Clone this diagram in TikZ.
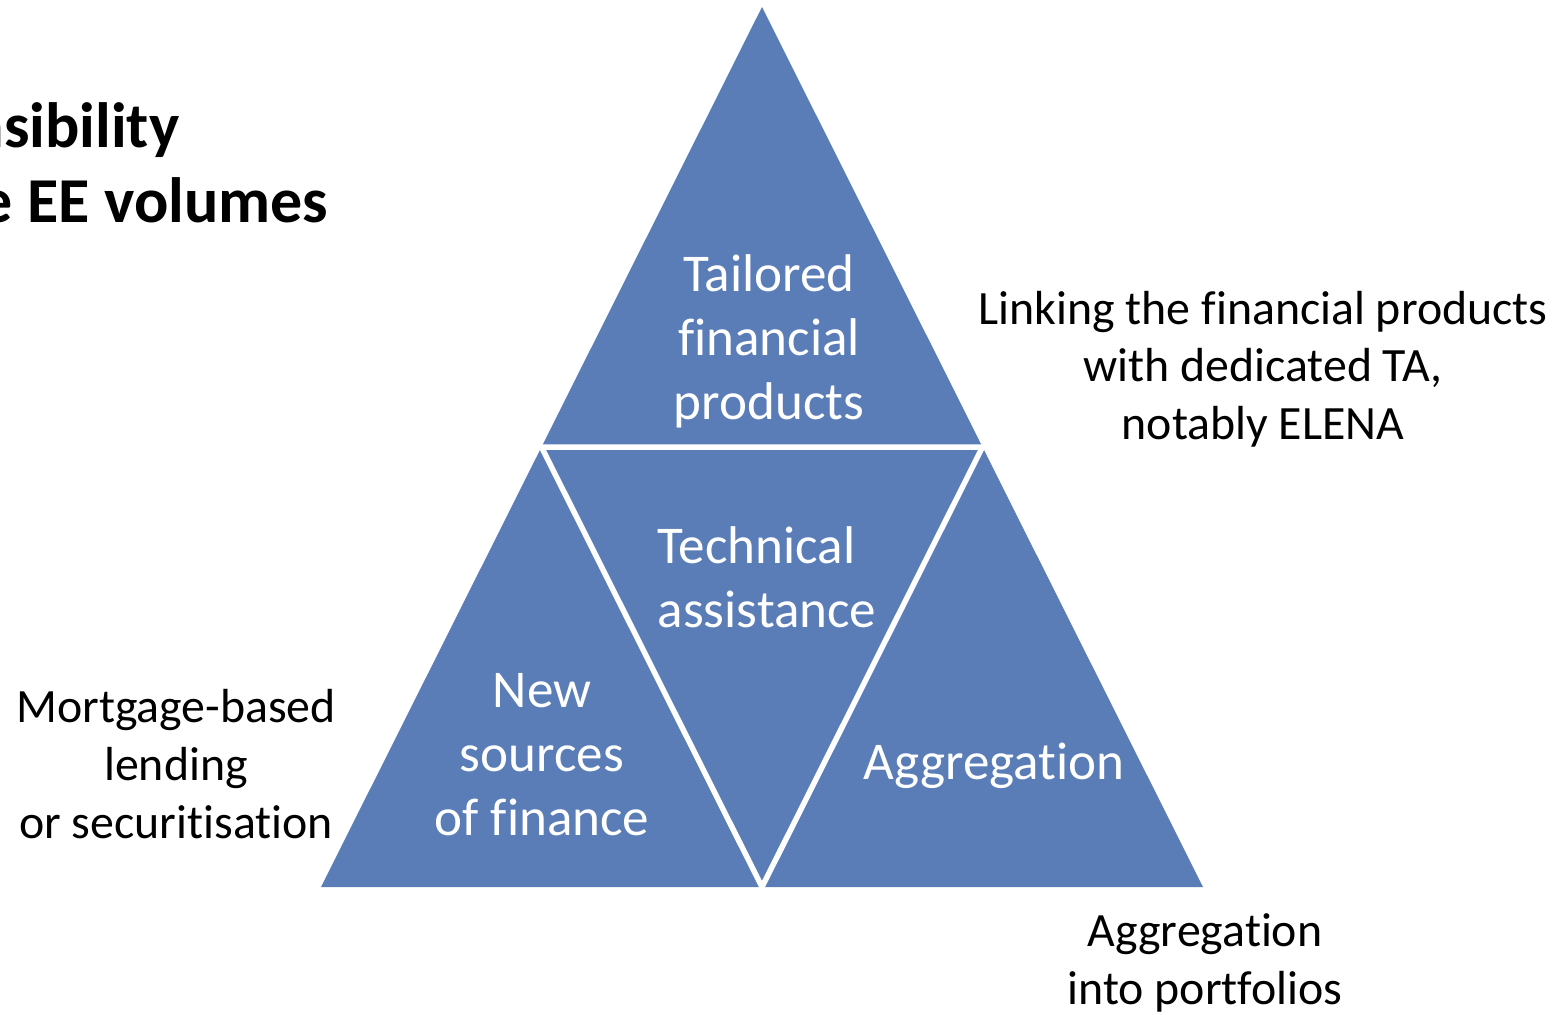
\documentclass[tikz,border=0pt]{standalone}
\usepackage{fontspec}
\setmainfont[Ligatures={NoCommon,NoRare,NoContextual}]{Carlito}
\usetikzlibrary{calc}
\definecolor{pyrblue}{RGB}{90,125,184}
\tikzset{
  inlabel/.style={text=white, align=center, inner sep=0pt,
    font=\fontsize{15.1}{18.2}\selectfont},
  outlabel/.style={text=black, align=center, inner sep=0pt,
    font=\fontsize{13.6}{16.4}\selectfont},
  titlelabel/.style={anchor=base east, inner sep=0pt,
    font=\bfseries\fontsize{18.2}{21.9}\selectfont}
}
\begin{document}
\begin{tikzpicture}[x=0.01cm,y=-0.01cm,line join=miter]
\useasboundingbox (0,0) rectangle (1557,1014);
% corners of the pyramid
\coordinate (top) at (762,7);
\coordinate (left) at (321,887);
\coordinate (right) at (1203,887);
\coordinate (midL) at ($(top)!0.5!(left)$);
\coordinate (midR) at ($(top)!0.5!(right)$);
\coordinate (midB) at ($(left)!0.5!(right)$);
\fill[pyrblue] (top) -- (left) -- (right) -- cycle;
\draw[white, line width=0.055cm] (midL) -- (midR) -- (midB) -- cycle;
% labels inside
\node[inlabel] (tailored) at (769,341) {Tailored\\financial\\products};
\node[inlabel, align=left, anchor=west] (techassist) at (657,577) {Technical\\assistance};
\node[inlabel] (newsources) at (542,755) {New\\sources\\of finance};
\node[inlabel] (aggreg) at (994,766) {Aggregation};
% labels outside
\node[outlabel] (linking) at (1263,369) {Linking the financial products\\with dedicated TA,\\notably ELENA};
\node[outlabel] (mortgage) at (176,764) {Mortgage-based\\lending\\or securitisation};
\node[outlabel] (portfolios) at (1205,963) {Aggregation\\into portfolios};
% title, cut at the left edge
\node[titlelabel] (feasib) at (180,147) {Feasibility};
\node[titlelabel] (volumes) at (329,222) {Increase EE volumes};
\end{tikzpicture}
\end{document}
